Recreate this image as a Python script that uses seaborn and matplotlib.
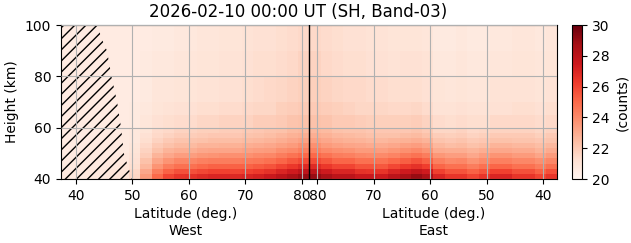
import numpy as np
import matplotlib
matplotlib.use("Agg")
import matplotlib.pyplot as plt
import seaborn as sns

TITLE = "2026-02-10 00:00 UT (SH, Band-03)"
# height bin edges (km), bottom -> top
HEIGHT_EDGES = [40, 42, 44, 46, 48, 50, 52, 54, 56, 58, 60, 65, 70, 80, 90, 100]
# latitude bin centres (deg), ascending
LAT_CENTERS = [38.4, 40.4, 42.4, 44.4, 46.4, 48.4, 50.4, 52.4, 54.4, 56.4, 58.4,
               60.4, 62.4, 64.4, 66.4, 68.4, 70.4, 72.4, 74.4, 76.4, 78.4, 80.4]
LAT_HALF_WIDTH = 1.0
TURN_LAT = 81.4  # latitude where the West pass turns into the East pass

# counts per latitude column (bottom -> top), West pass, lat ascending
WEST_COUNTS = [
    [20.7, 20.7, 20.7, 20.7, 20.6, 20.6, 20.6, 20.6, 20.6, 20.6, 20.6, 20.6, 20.6, 20.6, 20.6],
    [20.7, 20.7, 20.7, 20.7, 20.6, 20.6, 20.6, 20.6, 20.6, 20.6, 20.6, 20.6, 20.6, 20.6, 20.6],
    [20.8, 20.8, 20.7, 20.7, 20.7, 20.7, 20.7, 20.6, 20.6, 20.6, 20.6, 20.6, 20.6, 20.6, 20.6],
    [20.8, 20.8, 20.7, 20.7, 20.7, 20.7, 20.7, 20.6, 20.6, 20.6, 20.6, 20.6, 20.6, 20.6, 20.6],
    [20.9, 20.9, 20.8, 20.8, 20.7, 20.7, 20.7, 20.7, 20.7, 20.6, 20.6, 20.6, 20.6, 20.6, 20.6],
    [21.0, 20.9, 20.9, 20.8, 20.8, 20.7, 20.7, 20.7, 20.7, 20.7, 20.6, 20.6, 20.6, 20.6, 20.6],
    [21.6, 21.5, 21.3, 21.2, 21.1, 21.0, 20.9, 20.8, 20.8, 20.8, 20.7, 20.7, 20.6, 20.6, 20.6],
    [23.5, 23.1, 22.6, 22.3, 21.9, 21.7, 21.5, 21.3, 21.2, 21.0, 20.9, 20.8, 20.7, 20.7, 20.6],
    [25.0, 24.4, 23.7, 23.2, 22.7, 22.3, 22.0, 21.7, 21.5, 21.4, 21.2, 21.0, 20.9, 20.8, 20.7],
    [26.0, 25.2, 24.4, 23.7, 23.1, 22.7, 22.3, 22.0, 21.7, 21.5, 21.3, 21.1, 20.9, 20.8, 20.7],
    [26.5, 25.7, 24.8, 24.1, 23.4, 22.9, 22.5, 22.2, 21.9, 21.7, 21.4, 21.2, 21.0, 20.9, 20.8],
    [26.6, 25.7, 24.8, 24.1, 23.4, 22.9, 22.5, 22.2, 21.9, 21.7, 21.4, 21.2, 21.0, 20.9, 20.8],
    [26.8, 25.9, 25.0, 24.3, 23.6, 23.1, 22.7, 22.3, 22.0, 21.8, 21.6, 21.3, 21.1, 21.0, 20.9],
    [27.0, 26.1, 25.2, 24.4, 23.7, 23.2, 22.7, 22.4, 22.1, 21.8, 21.6, 21.3, 21.1, 21.0, 20.9],
    [27.0, 26.1, 25.2, 24.4, 23.8, 23.2, 22.8, 22.4, 22.1, 21.9, 21.7, 21.4, 21.2, 21.1, 21.0],
    [26.9, 26.0, 25.2, 24.4, 23.8, 23.2, 22.8, 22.4, 22.1, 21.9, 21.7, 21.4, 21.2, 21.1, 21.0],
    [27.0, 26.1, 25.2, 24.5, 23.8, 23.3, 22.9, 22.5, 22.2, 22.0, 21.7, 21.5, 21.3, 21.2, 21.1],
    [27.2, 26.3, 25.4, 24.6, 24.0, 23.4, 23.0, 22.6, 22.3, 22.1, 21.9, 21.6, 21.4, 21.3, 21.2],
    [27.5, 26.6, 25.6, 24.8, 24.1, 23.5, 23.1, 22.7, 22.4, 22.2, 21.9, 21.6, 21.5, 21.3, 21.2],
    [28.0, 27.0, 26.0, 25.1, 24.4, 23.8, 23.3, 22.9, 22.6, 22.3, 22.0, 21.8, 21.6, 21.4, 21.3],
    [28.5, 27.4, 26.4, 25.5, 24.7, 24.0, 23.5, 23.1, 22.8, 22.5, 22.2, 21.9, 21.7, 21.5, 21.4],
    [29.0, 27.9, 26.8, 25.8, 25.0, 24.3, 23.8, 23.3, 22.9, 22.6, 22.3, 22.0, 21.8, 21.7, 21.5],
]

# counts per latitude column (bottom -> top), East pass, lat descending (80.4 -> 38.4)
EAST_COUNTS = [
    [29.0, 27.9, 26.8, 25.8, 25.0, 24.3, 23.8, 23.3, 22.9, 22.6, 22.3, 22.0, 21.8, 21.7, 21.5],
    [28.5, 27.4, 26.4, 25.5, 24.7, 24.0, 23.5, 23.1, 22.8, 22.5, 22.2, 21.9, 21.7, 21.5, 21.4],
    [28.0, 27.0, 26.0, 25.1, 24.4, 23.8, 23.3, 22.9, 22.6, 22.3, 22.0, 21.8, 21.6, 21.4, 21.3],
    [28.0, 27.0, 26.0, 25.1, 24.3, 23.7, 23.2, 22.8, 22.5, 22.2, 22.0, 21.7, 21.5, 21.3, 21.2],
    [27.5, 26.6, 25.6, 24.8, 24.1, 23.5, 23.1, 22.7, 22.4, 22.2, 21.9, 21.6, 21.5, 21.3, 21.2],
    [27.5, 26.5, 25.6, 24.8, 24.0, 23.5, 23.0, 22.6, 22.3, 22.1, 21.8, 21.6, 21.4, 21.2, 21.1],
    [27.4, 26.5, 25.5, 24.7, 24.0, 23.4, 23.0, 22.6, 22.3, 22.1, 21.8, 21.6, 21.4, 21.2, 21.1],
    [28.0, 27.0, 25.9, 25.0, 24.2, 23.6, 23.1, 22.7, 22.3, 22.1, 21.8, 21.5, 21.3, 21.1, 21.0],
    [28.5, 27.4, 26.3, 25.3, 24.5, 23.8, 23.3, 22.8, 22.4, 22.1, 21.8, 21.5, 21.3, 21.2, 21.0],
    [29.0, 27.8, 26.6, 25.6, 24.7, 24.0, 23.4, 22.9, 22.5, 22.2, 21.9, 21.6, 21.3, 21.2, 21.0],
    [28.5, 27.4, 26.2, 25.2, 24.4, 23.7, 23.2, 22.7, 22.3, 22.0, 21.7, 21.4, 21.2, 21.1, 20.9],
    [27.0, 26.1, 25.1, 24.3, 23.6, 23.0, 22.6, 22.2, 21.9, 21.6, 21.4, 21.1, 21.0, 20.8, 20.7],
    [26.5, 25.6, 24.8, 24.0, 23.4, 22.9, 22.4, 22.1, 21.8, 21.6, 21.3, 21.1, 20.9, 20.8, 20.7],
    [26.5, 25.6, 24.8, 24.1, 23.4, 22.9, 22.5, 22.2, 21.9, 21.7, 21.4, 21.2, 21.0, 20.9, 20.8],
    [26.0, 25.2, 24.4, 23.7, 23.1, 22.7, 22.3, 22.0, 21.7, 21.5, 21.3, 21.1, 20.9, 20.8, 20.7],
    [26.5, 25.6, 24.8, 24.0, 23.4, 22.9, 22.4, 22.1, 21.8, 21.6, 21.3, 21.1, 20.9, 20.8, 20.7],
    [27.0, 26.1, 25.1, 24.3, 23.7, 23.1, 22.7, 22.3, 22.0, 21.7, 21.5, 21.2, 21.1, 20.9, 20.8],
    [27.0, 26.1, 25.1, 24.3, 23.7, 23.1, 22.7, 22.3, 22.0, 21.7, 21.5, 21.2, 21.1, 20.9, 20.8],
    [26.5, 25.7, 24.8, 24.1, 23.5, 23.0, 22.6, 22.2, 22.0, 21.7, 21.5, 21.3, 21.1, 21.0, 20.9],
    [26.5, 25.7, 24.8, 24.1, 23.5, 23.0, 22.6, 22.2, 22.0, 21.7, 21.5, 21.3, 21.1, 21.0, 20.9],
    [26.0, 25.2, 24.4, 23.8, 23.2, 22.7, 22.4, 22.1, 21.8, 21.6, 21.4, 21.2, 21.0, 20.9, 20.8],
    [26.5, 25.7, 24.8, 24.1, 23.5, 23.0, 22.6, 22.2, 22.0, 21.7, 21.5, 21.3, 21.1, 21.0, 20.9],
]

# no-data (hatched) boundary on the West pass
HATCH_HEIGHTS = [40, 45, 50, 60, 70, 80, 90, 95, 100]
HATCH_LATS = [50.0, 49.2, 48.5, 48.0, 47.3, 46.3, 45.5, 44.5, 43.8]

TICK_LATS = [40, 50, 60, 70, 80]
CBAR_TICKS = [20, 22, 24, 26, 28, 30]
VMIN, VMAX = 20, 30
XLIM_WEST_LAT = 37.35
XLIM_EAST_LAT = 37.5

# ---------------------------------------------------------------
def east_pos(lat):
    return 2 * TURN_LAT - np.asarray(lat, dtype=float)

lat = np.asarray(LAT_CENTERS, dtype=float)
west_edges = np.append(lat - LAT_HALF_WIDTH, lat[-1] + LAT_HALF_WIDTH)
east_lat_desc = lat[::-1]
east_edges = east_pos(np.append(east_lat_desc + LAT_HALF_WIDTH, east_lat_desc[-1] - LAT_HALF_WIDTH))
x_edges = np.concatenate([west_edges, east_edges[1:]])
Z = np.array(WEST_COUNTS + EAST_COUNTS).T

cmap = sns.color_palette("Reds", as_cmap=True)

fig = plt.figure(figsize=(6.31, 2.43), dpi=100)
ax = fig.add_axes([61 / 631, 64 / 243, 496 / 631, 154 / 243])
cax = fig.add_axes([572 / 631, 64 / 243, 10 / 631, 154 / 243])

mesh = ax.pcolormesh(x_edges, HEIGHT_EDGES, Z, cmap=cmap, vmin=VMIN, vmax=VMAX,
                     shading="flat", zorder=0)

left = XLIM_WEST_LAT
ax.fill_betweenx(HATCH_HEIGHTS, left, HATCH_LATS, facecolor="none",
                 edgecolor="black", hatch="///", linewidth=0, zorder=1)

ax.axvline(TURN_LAT, color="black", linewidth=1.0, zorder=3)

ax.set_xlim(XLIM_WEST_LAT, east_pos(XLIM_EAST_LAT))
ax.set_ylim(40, 100)
ticks = list(TICK_LATS) + list(east_pos(TICK_LATS[::-1]))
labels = [str(t) for t in TICK_LATS] + [str(t) for t in TICK_LATS[::-1]]
ax.set_xticks(ticks)
ax.set_xticklabels(labels)
ax.set_yticks([40, 60, 80, 100])
ax.grid(True, color="#b0b0b0", linewidth=0.8)
ax.set_axisbelow(False)
ax.set_ylabel("Height (km)")
ax.set_title(TITLE, fontsize=12, x=(298.5 - 61) / 496)

west_mid = (XLIM_WEST_LAT + TURN_LAT) / 2
east_mid = (TURN_LAT + east_pos(XLIM_EAST_LAT)) / 2
for xm, side in [(west_mid, "West"), (east_mid, "East")]:
    ax.annotate(f"Latitude (deg.)\n{side}", xy=(xm, 0),
                xycoords=("data", "axes fraction"), xytext=(0, -20.5),
                textcoords="offset points", ha="center", va="top",
                multialignment="center", fontsize=10)

cb = fig.colorbar(mesh, cax=cax, ticks=CBAR_TICKS)
cb.set_label("(counts)")
cb.outline.set_linewidth(0.8)

fig.savefig("out.png", dpi=100)
